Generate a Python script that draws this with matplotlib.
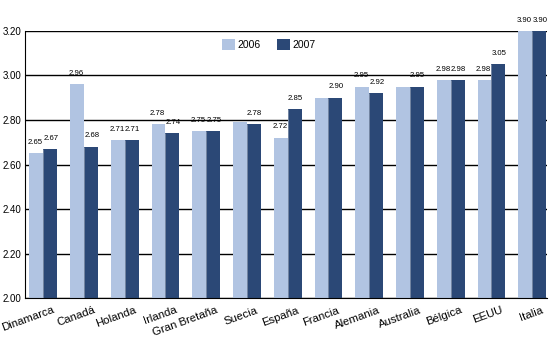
import matplotlib
matplotlib.use('Agg')
import matplotlib.pyplot as plt
import matplotlib.transforms as mtransforms
import numpy as np

plt.rcParams['font.family'] = ['Liberation Sans', 'DejaVu Sans']

# salarios por pais
paises = ['Dinamarca', 'Canadá', 'Holanda', 'Irlanda', 'Gran Bretaña', 'Suecia', 'España',
          'Francia', 'Alemania', 'Australia', 'Bélgica', 'EEUU', 'Italia']
v2006 = [2.65, 2.96, 2.71, 2.78, 2.75, 2.79, 2.72, 2.90, 2.95, 2.95, 2.98, 2.98, 3.90]
v2007 = [2.67, 2.68, 2.71, 2.74, 2.75, 2.78, 2.85, 2.90, 2.92, 2.95, 2.98, 3.05, 3.90]
# etiquetas que se muestran encima de cada barra
lab2006 = ['2.65', '2.96', '2.71', '2.78', '2.75', '', '2.72', '', '2.95', '', '2.98', '2.98', '3.90']
lab2007 = ['2.67', '2.68', '2.71', '2.74', '2.75', '2.78', '2.85', '2.90', '2.92', '2.95', '2.98', '3.05', '3.90']
yticks = [2.00, 2.20, 2.40, 2.60, 2.80, 3.00, 3.20]

c06 = '#b1c4e2'
c07 = '#2b4876'

fig = plt.figure(figsize=(5.5, 3.4), dpi=100)
ax = fig.add_axes([0.046, 0.123, 0.949, 0.786])

x = np.arange(len(paises))
w = 0.34
ymin, ymax = 2.0, 3.2

ax.bar(x - w / 2, v2006, w, color=c06, label='2006', zorder=2)
ax.bar(x + w / 2, v2007, w, color=c07, label='2007', zorder=2)
# linea gris fina entre las dos barras
ax.vlines(x, ymin, np.minimum(v2007, ymax), color='#8090aa', lw=0.6, zorder=3)

for i in range(len(paises)):
    if lab2006[i]:
        ax.text(x[i] - w / 2 - 0.02, min(v2006[i], ymax) + 0.033, lab2006[i], ha='center', va='bottom',
                fontsize=5.6, clip_on=False)
    if lab2007[i]:
        ax.text(x[i] + w / 2 + 0.02, min(v2007[i], ymax) + 0.033, lab2007[i], ha='center', va='bottom',
                fontsize=5.6, clip_on=False)

ax.set_ylim(ymin, ymax)
ax.set_xlim(-0.44, len(paises) - 0.63)
ax.set_yticks(yticks)
ax.set_yticklabels([f'{t:.2f}' for t in yticks], fontsize=7)
ax.yaxis.grid(True, color='black', lw=1)
ax.set_axisbelow(True)
ax.tick_params(axis='y', length=0, pad=3)
ax.tick_params(axis='x', length=0)

ax.set_xticks(x)
ax.set_xticklabels(paises, fontsize=8.2, rotation=20, ha='right', va='top', rotation_mode='anchor')
offset = mtransforms.ScaledTranslation(9 / 100, -2 / 100, fig.dpi_scale_trans)
for lbl in ax.get_xticklabels():
    lbl.set_transform(lbl.get_transform() + offset)

for s in ['top', 'right']:
    ax.spines[s].set_visible(False)
ax.spines['left'].set_color('black')
ax.spines['bottom'].set_color('black')

ax.legend(loc='center', bbox_to_anchor=(0.466, 0.95), ncol=2, frameon=False, fontsize=7.5,
          handlelength=1.25, handleheight=1.25, columnspacing=1.6, handletextpad=0.2)

fig.savefig('out.png', dpi=100)
